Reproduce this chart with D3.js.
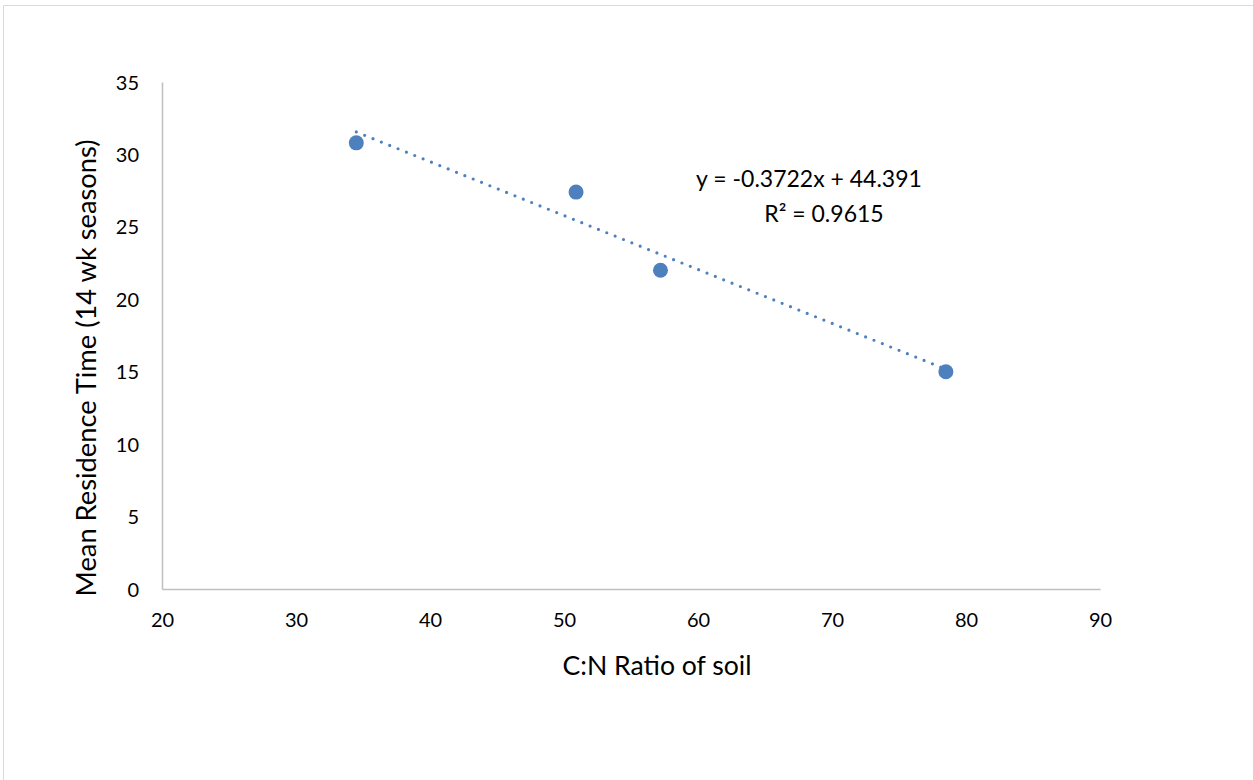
<!DOCTYPE html>
<html><head><meta charset="utf-8">
<script src="https://cdn.jsdelivr.net/npm/d3@7"></script>
<style>body{margin:0;background:#fff}svg{display:block}text{font-family:Lato,"Open Sans",sans-serif;fill:#000}</style>
</head><body>
<svg id="c" width="1253" height="780"></svg>
<script>
const cnRatio = [34.5, 50.9, 57.2, 78.5];
const residence = [30.8, 27.4, 22.0, 15.0];
const xTicks = [20, 30, 40, 50, 60, 70, 80, 90];
const yTicks = [0, 5, 10, 15, 20, 25, 30, 35];
const slope = -0.3722, intercept = 44.391;
const eqLines = ["y = -0.3722x + 44.391", "R² = 0.9615"];

const svg = d3.select("#c");
const color = "#4e80bd";
svg.append("path").attr("d","M3.5,780V5.5H1253").attr("fill","none").attr("stroke","#d9d9d9").attr("stroke-width",1);

const x = d3.scaleLinear().domain([20,90]).range([162,1100]);
const y = d3.scaleLinear().domain([0,35]).range([589,82]);

const xAxis = svg.append("g").attr("transform","translate(0,589)")
  .call(d3.axisBottom(x).tickValues(xTicks).tickSize(0));
const yAxis = svg.append("g").attr("transform","translate(162,0)")
  .call(d3.axisLeft(y).tickValues(yTicks).tickSize(0).tickPadding(23));
[xAxis,yAxis].forEach(a=>{
  a.select(".domain").attr("stroke","#bfbfbf").attr("stroke-width",1.5);
  a.selectAll("text").style("font-size","20px").style("font-family","Lato,'Open Sans',sans-serif").attr("fill","#000");
});
xAxis.selectAll("text").attr("dy","0").attr("y",38);
yAxis.selectAll("text").attr("dy","0.35em");

const xs = d3.extent(cnRatio);
svg.append("line")
  .attr("x1",x(xs[0])).attr("y1",y(slope*xs[0]+intercept))
  .attr("x2",x(xs[1])).attr("y2",y(slope*xs[1]+intercept))
  .attr("stroke",color).attr("stroke-width",3.2).attr("stroke-linecap","round")
  .attr("stroke-dasharray","0 9");

svg.selectAll("circle.pt").data(cnRatio.map((d,i)=>[d,residence[i]])).enter()
  .append("circle").attr("class","pt")
  .attr("cx",d=>x(d[0])).attr("cy",d=>y(d[1])).attr("r",7.5).attr("fill",color);

function fit(t, w){ const l=t.node().getComputedTextLength(); t.style("font-size",(22*w/l).toFixed(2)+"px"); }
svg.append("text").attr("x",809).attr("y",187).attr("text-anchor","middle").style("font-size","23px").text(eqLines[0]);
svg.append("text").attr("x",824).attr("y",222).attr("text-anchor","middle").style("font-size","23px").text(eqLines[1]);

const xt = svg.append("text").attr("x",657).attr("y",675).attr("text-anchor","middle").style("font-size","22px").text("C:N Ratio of soil");
const yt = svg.append("text").attr("transform","translate(96,368) rotate(-90)").attr("text-anchor","middle").style("font-size","22px").text("Mean Residence Time (14 wk seasons)");
fit(xt,189); fit(yt,457);
</script>
</body></html>
